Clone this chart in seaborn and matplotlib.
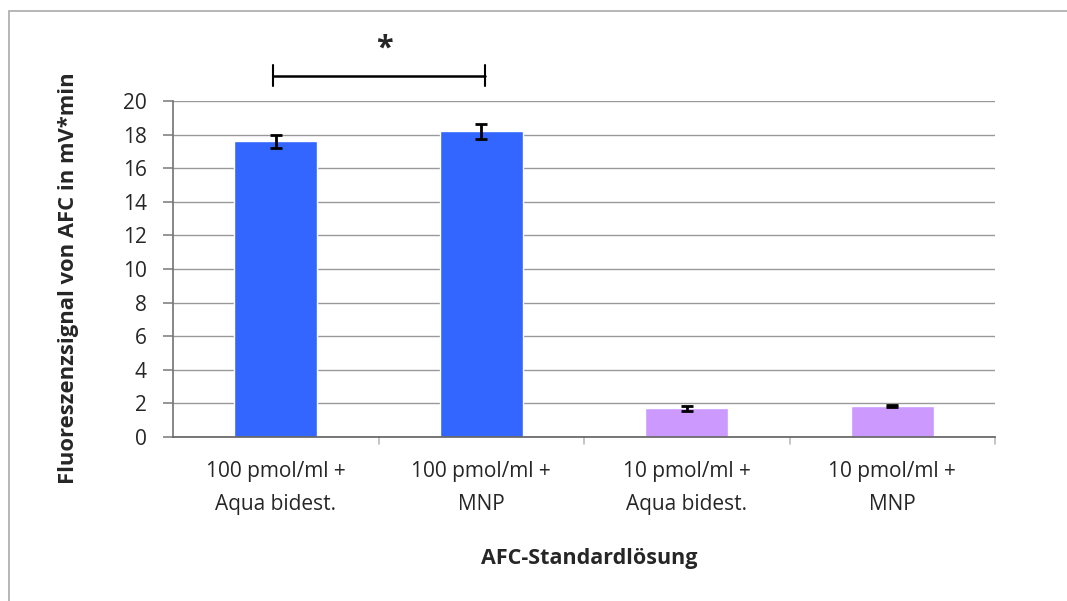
import matplotlib
matplotlib.use("Agg")
import matplotlib.pyplot as plt
import seaborn as sns
import pandas as pd
from matplotlib.patches import Rectangle

categories = ["100 pmol/ml +\nAqua bidest.", "100 pmol/ml +\nMNP",
              "10 pmol/ml +\nAqua bidest.", "10 pmol/ml +\nMNP"]
values = [17.6, 18.2, 1.7, 1.85]
errors = [0.4, 0.45, 0.15, 0.05]
colors = ["#3366FF", "#3366FF", "#CC99FF", "#CC99FF"]
yticks = [0, 2, 4, 6, 8, 10, 12, 14, 16, 18, 20]
ylabel = "Fluoreszenzsignal von AFC in mV*min"
xlabel = "AFC-Standardlösung"

sns.set_theme(style="white")
plt.rcParams['font.family'] = ['Open Sans', 'DejaVu Sans']

df = pd.DataFrame({"cat": categories, "val": values})

fig = plt.figure(figsize=(10.67, 6.01), dpi=100)
ax = fig.add_axes([173/1067, 1 - 437/601, (995-173)/1067, (437-101)/601])

sns.barplot(data=df, x="cat", y="val", hue="cat", palette=colors, legend=False,
            width=0.405, ax=ax, saturation=1, errorbar=None)
ax.errorbar(range(len(values)), values, yerr=errors, fmt="none",
            ecolor="black", elinewidth=2, capsize=4, capthick=2, zorder=5)

ax.set_ylim(0, 20)
ax.set_xlim(-0.5, 3.5)
ax.set_yticks(yticks)
ax.set_yticklabels([str(t) for t in yticks], fontsize=15)
ax.tick_params(axis="x", labelsize=15, length=0, pad=17)
for lbl in ax.get_xticklabels():
    lbl.set_linespacing(1.75)
ax.tick_params(axis="y", left=True, length=7, color="#888888", pad=12)
ax.grid(axis="y", color="#999999", linewidth=1)
ax.set_axisbelow(True)
for s in ["top", "right"]:
    ax.spines[s].set_visible(False)
ax.spines["left"].set_color("#777777")
ax.spines["bottom"].set_color("#666666")
# category separator ticks
for xb in [0.5, 1.5, 2.5, 3.5]:
    ax.plot([xb, xb], [0, -0.4], color="#bbbbbb", lw=1.2, clip_on=False)

ax.set_ylabel(ylabel, fontsize=15.8, fontweight="bold")
ax.yaxis.set_label_coords(-0.114, 0.473)
ax.set_xlabel(xlabel, fontsize=15.5, fontweight="bold")
ax.xaxis.set_label_coords(0.506, -0.33)

# significance bracket
yb = 21.5
xa, xb2 = -0.012, 1.017
ax.plot([xa, xb2], [yb, yb], color="black", lw=1.8, clip_on=False)
ax.plot([xa, xa], [yb - 0.62, yb + 0.62], color="black", lw=1.5, clip_on=False)
ax.plot([xb2, xb2], [yb - 0.62, yb + 0.62], color="black", lw=1.5, clip_on=False)
ax.text(0.53, 23.1, "*", ha="center", va="center", fontsize=22, fontweight="bold", clip_on=False)

# outer chart frame
fig.patches.append(Rectangle((9/1067, -0.05), 1.2, 1 - 11.5/601 + 0.05,
                             transform=fig.transFigure, fill=False,
                             edgecolor="#aaaaaa", lw=1.2))

fig.savefig("out.png", dpi=100)
